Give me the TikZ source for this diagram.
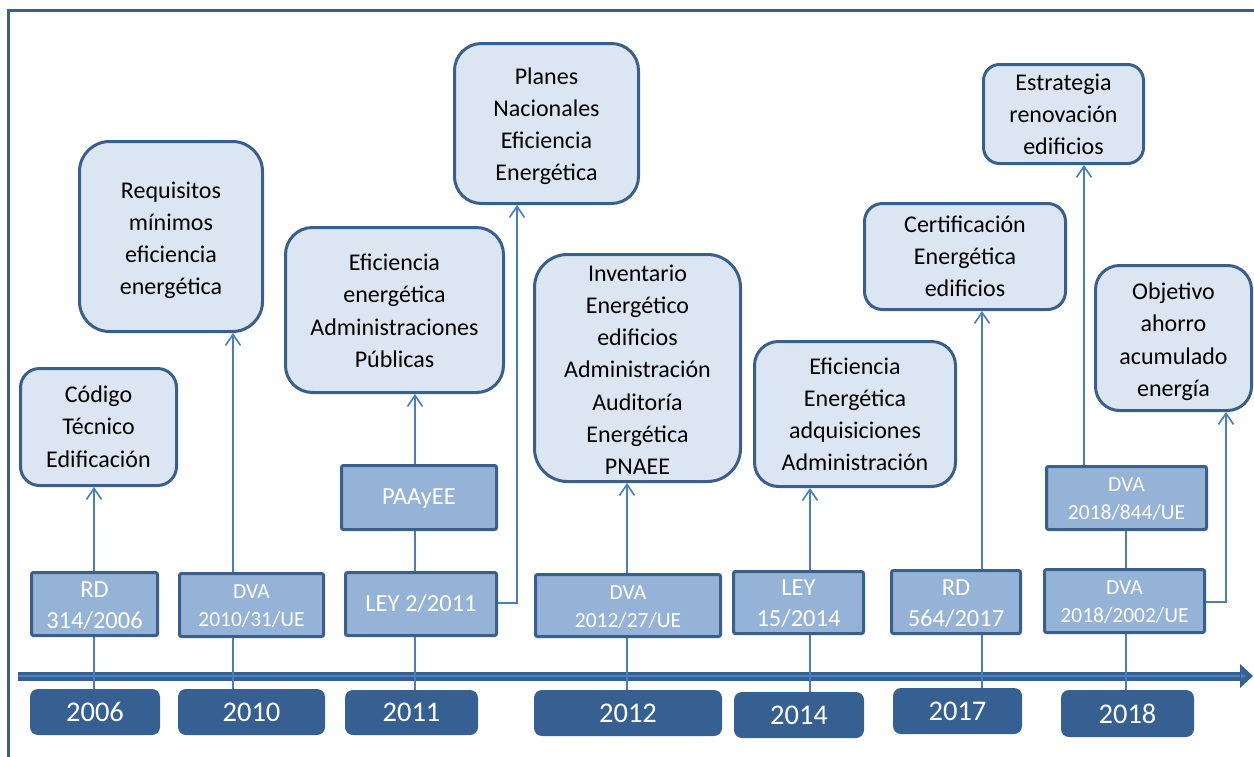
\documentclass[tikz,border=0pt]{standalone}
\usepackage{fontspec}
\setmainfont{Carlito}
\usetikzlibrary{arrows.meta}

\definecolor{evfill}{HTML}{DCE6F2}
\definecolor{edge}{HTML}{3A5F8B}
\definecolor{lawfill}{HTML}{95B3D7}
\definecolor{yearfill}{HTML}{376092}
\definecolor{linkcol}{HTML}{4A7EBB}
\definecolor{axisin}{HTML}{4F81BD}

% centred stack of lines, set a little lower than its box says
\newcommand\stacklines[2]{\raisebox{-#1}[\height][\depth]{\begin{tabular}{@{}c@{}}#2\end{tabular}}}

\begin{document}
\begin{tikzpicture}[x=1pt,y=-1pt,
  event/.style={draw=edge, line width=3pt, fill=evfill, inner sep=0pt,
                font=\fontsize{24}{32.3}\selectfont, text=black},
  law/.style={draw=edge, line width=3pt, fill=lawfill, rounded corners=2pt,
              inner sep=0pt, text=white},
  lawbig/.style={law, font=\fontsize{24.5}{31}\selectfont},
  lawsmall/.style={law, font=\fontsize{21.5}{28}\selectfont},
  year/.style={fill=yearfill, rounded corners=8pt, inner sep=0pt, text=white,
               font=\fontsize{28.5}{30}\selectfont},
  link/.style={draw=linkcol, line width=1.6pt},
  uplink/.style={link, -{Straight Barb[length=11pt,width=15pt]}}]

\useasboundingbox (0,0) rectangle (1254,756);
\clip (0,0) rectangle (1254,756);

% outer frame (runs past the right and bottom edges)
\draw[edge, line width=3pt] (8,10) rectangle (1280,790);

% time axis
\coordinate (ax0) at (18,676);
\coordinate (ax1) at (1242,676);
\draw[yearfill, line width=9pt] (ax0) -- (ax1);
\draw[axisin, line width=2.5pt] (ax0) -- (ax1);
\fill[yearfill] (1240,664) -- (1253,676) -- (1240,688) -- cycle;
\fill[axisin] (1241,673.5) -- (1246,676) -- (1241,678.5) -- cycle;

% event boxes
\node[event, minimum width=156pt, minimum height=117pt, rounded corners=19pt] (codigo) at (98.5,427)
  {\stacklines{1.5pt}{Código\\Técnico\\Edificación}};
\node[event, minimum width=183pt, minimum height=190pt, rounded corners=30pt] (requisitos) at (171,236.5)
  {\stacklines{3.5pt}{Requisitos\\mínimos\\eficiencia\\energética}};
\node[event, minimum width=218pt, minimum height=165pt, rounded corners=27pt] (efadm) at (394.5,310)
  {\stacklines{2.5pt}{Eficiencia\\energética\\Administraciones\\Públicas}};
\node[event, minimum width=184pt, minimum height=160pt, rounded corners=27pt] (planes) at (546.5,123.5)
  {\stacklines{2.5pt}{Planes\\Nacionales\\Eficiencia\\Energética}};
\node[event, minimum width=206pt, minimum height=227pt, rounded corners=33pt] (inventario) at (637.5,368)
  {\stacklines{3.5pt}{Inventario\\Energético\\edificios\\Administración\\Auditoría\\Energética\\PNAEE}};
\node[event, minimum width=201pt, minimum height=145pt, rounded corners=24pt] (efadq) at (855,414)
  {\stacklines{2pt}{Eficiencia\\Energética\\adquisiciones\\Administración}};
\node[event, minimum width=201pt, minimum height=106pt, rounded corners=18pt] (certif) at (965,256.5)
  {\stacklines{1.5pt}{Certificación\\Energética\\edificios}};
\node[event, minimum width=160pt, minimum height=99pt, rounded corners=16pt] (estrategia) at (1063.5,114)
  {\stacklines{2pt}{Estrategia\\renovación\\edificios}};
\node[event, minimum width=156pt, minimum height=145pt, rounded corners=24pt] (objetivo) at (1173.5,338)
  {\stacklines{3.5pt}{Objetivo\\ahorro\\acumulado\\energía}};

% legal texts
\node[lawbig, minimum width=126pt, minimum height=63pt] (rd2006) at (94.5,604) {\stacklines{2.5pt}{RD\\314/2006}};
\node[lawsmall, minimum width=144pt, minimum height=63pt] (dva2010) at (251.5,605) {\stacklines{2pt}{DVA\\2010/31/UE}};
\node[lawbig, minimum width=151pt, minimum height=63pt] (ley2011) at (421,604) {\stacklines{1pt}{LEY 2/2011}};
\node[lawbig, minimum width=155pt, minimum height=64pt] (paayee) at (419,497.5) {\stacklines{1pt}{PAAyEE}};
\node[lawsmall, minimum width=185pt, minimum height=62pt] (dva2012) at (628,605.5) {\stacklines{2pt}{DVA\\2012/27/UE}};
\node[lawbig, minimum width=130pt, minimum height=62pt] (ley2014) at (798.5,602.5) {\stacklines{2.5pt}{LEY\\15/2014}};
\node[lawbig, minimum width=129pt, minimum height=63pt] (rd2017) at (956,602) {\stacklines{2.5pt}{RD\\564/2017}};
\node[lawsmall, minimum width=160pt, minimum height=63pt] (dva844) at (1126.5,498) {\stacklines{2pt}{DVA\\2018/844/UE}};
\node[lawsmall, minimum width=160pt, minimum height=63pt] (dva2002) at (1124.5,601) {\stacklines{2pt}{DVA\\2018/2002/UE}};

% years
\node[year, minimum width=130pt, minimum height=46pt] (y2006) at (95,712) {2006};
\node[year, minimum width=147pt, minimum height=46pt] (y2010) at (251.5,712) {2010};
\node[year, minimum width=133pt, minimum height=45pt] (y2011) at (411.5,712.5) {2011};
\node[year, minimum width=188pt, minimum height=46pt] (y2012) at (628,713) {2012};
\node[year, minimum width=130pt, minimum height=46pt] (y2014) at (799,715) {2014};
\node[year, minimum width=129pt, minimum height=46pt] (y2017) at (957.5,711) {2017};
\node[year, minimum width=133pt, minimum height=47pt] (y2018) at (1127.5,713.5) {2018};

% connector columns
\coordinate (c2006) at (94,0);
\coordinate (c2010) at (233,0);
\coordinate (c2011) at (415,0);
\coordinate (k2011) at (517,603);
\coordinate (c2012) at (627,0);
\coordinate (c2014) at (810,0);
\coordinate (c2017) at (982,0);
\coordinate (c2018) at (1126,0);
\coordinate (c844) at (1084,0);
\coordinate (k2018) at (1226,602);

% connectors
\draw[link] (y2006.north -| c2006) -- (rd2006.south -| c2006);
\draw[uplink] (rd2006.north -| c2006) -- (codigo.south -| c2006);

\draw[link] (y2010.north -| c2010) -- (dva2010.south -| c2010);
\draw[uplink] (dva2010.north -| c2010) -- (requisitos.south -| c2010);

\draw[link] (y2011.north -| c2011) -- (ley2011.south -| c2011);
\draw[link] (ley2011.north -| c2011) -- (paayee.south -| c2011);
\draw[uplink] (paayee.north -| c2011) -- (efadm.south -| c2011);
\draw[uplink] (ley2011.east |- k2011) -- (k2011) -- (planes.south -| k2011);

\draw[link] (y2012.north -| c2012) -- (dva2012.south -| c2012);
\draw[uplink] (dva2012.north -| c2012) -- (inventario.south -| c2012);

\draw[link] (y2014.north -| c2014) -- (ley2014.south -| c2014);
\draw[uplink] (ley2014.north -| c2014) -- (efadq.south -| c2014);

\draw[link] (y2017.north -| c2017) -- (rd2017.south -| c2017);
\draw[uplink] (rd2017.north -| c2017) -- (certif.south -| c2017);

\draw[link] (y2018.north -| c2018) -- (dva2002.south -| c2018);
\draw[link] (dva2002.north -| c2018) -- (dva844.south -| c2018);
\draw[uplink] (dva844.north -| c844) -- (estrategia.south -| c844);
\draw[uplink] (dva2002.east |- k2018) -- (k2018) -- (objetivo.south -| k2018);

\end{tikzpicture}
\end{document}
